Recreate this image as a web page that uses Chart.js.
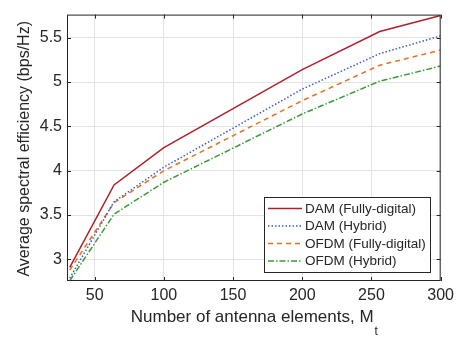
<!DOCTYPE html>
<html lang="en">
<head>
  <meta charset="UTF-8" />
  <title>Average spectral efficiency vs. antenna elements</title>
  <script src="https://cdn.jsdelivr.net/npm/chart.js"></script>
  <style>
    body { margin: 0; padding: 0; background: #ffffff; }
    canvas { display: block; }
  </style>
</head>
<body>
  <canvas id="seChart" width="459" height="339"></canvas>

  <script>
    // Data
    const antennas = [32, 64, 100, 200, 256, 300];
    const damFull = [2.91, 3.84, 4.26, 5.14, 5.57, 5.75];
    const damHybrid = [2.79, 3.65, 4.04, 4.92, 5.32, 5.52];
    const ofdmFull = [2.88, 3.64, 4.00, 4.79, 5.19, 5.36];
    const ofdmHybrid = [2.76, 3.51, 3.87, 4.64, 5.01, 5.18];

    const seriesNames = ['DAM (Fully-digital)', 'DAM (Hybrid)', 'OFDM (Fully-digital)', 'OFDM (Hybrid)'];
    const xTicks = [50, 100, 150, 200, 250, 300];
    const yTicks = [3, 3.5, 4, 4.5, 5, 5.5];

    const fontFamily = "'Liberation Sans', Arial, Helvetica, sans-serif";
    const textColor = '#262626';

    function toPoints(ys) {
      return antennas.map((x, i) => ({ x: x, y: ys[i] }));
    }

    const styles = [
      { color: '#b0202a', dash: [] },
      { color: '#3a5bd0', dash: [1.5, 2] },
      { color: '#e8701e', dash: [5, 4] },
      { color: '#3a9a3a', dash: [6, 2, 1.5, 2] }
    ];

    const datasets = [damFull, damHybrid, ofdmFull, ofdmHybrid].map((ys, i) => ({
      label: seriesNames[i],
      data: toPoints(ys),
      borderColor: styles[i].color,
      borderDash: styles[i].dash,
      borderWidth: 1.5,
      pointRadius: 0,
      fill: false,
      tension: 0
    }));

    // frame, inward ticks, axis titles and legend box
    const decorPlugin = {
      id: 'decor',
      afterDraw(chart) {
        const ctx = chart.ctx;
        const a = chart.chartArea;
        const xs = chart.scales.x;
        const ys = chart.scales.y;
        ctx.save();
        ctx.strokeStyle = textColor;
        ctx.lineWidth = 1;
        ctx.strokeRect(a.left + 0.5, a.top + 0.5, a.right - a.left - 1, a.bottom - a.top - 1);
        ctx.beginPath();
        xTicks.forEach(v => {
          const px = Math.round(xs.getPixelForValue(v)) + 0.5;
          ctx.moveTo(px, a.bottom); ctx.lineTo(px, a.bottom - 4);
          ctx.moveTo(px, a.top); ctx.lineTo(px, a.top + 4);
        });
        yTicks.forEach(v => {
          const py = Math.round(ys.getPixelForValue(v)) + 0.5;
          ctx.moveTo(a.left, py); ctx.lineTo(a.left + 4, py);
          ctx.moveTo(a.right, py); ctx.lineTo(a.right - 4, py);
        });
        ctx.stroke();

        // x title with subscript
        ctx.fillStyle = textColor;
        ctx.textBaseline = 'alphabetic';
        ctx.font = '17px ' + fontFamily;
        const main = 'Number of antenna elements, M';
        const wMain = ctx.measureText(main).width;
        ctx.font = '12px ' + fontFamily;
        const wSub = ctx.measureText('t').width;
        const cx = (a.left + a.right) / 2;
        const startX = cx - (wMain + wSub) / 2;
        ctx.font = '17px ' + fontFamily;
        ctx.textAlign = 'left';
        ctx.fillText(main, startX, 322);
        ctx.font = '12px ' + fontFamily;
        ctx.fillText('t', startX + wMain + 1, 335);

        // y title
        ctx.save();
        ctx.translate(25, (a.top + a.bottom) / 2 + 1);
        ctx.rotate(-Math.PI / 2);
        ctx.font = '16px ' + fontFamily;
        ctx.textAlign = 'center';
        ctx.textBaseline = 'middle';
        ctx.fillText('Average spectral efficiency (bps/Hz)', 0, 0);
        ctx.restore();

        // legend
        const bx = 264, by = 197, bw = 166, bh = 75;
        ctx.fillStyle = '#ffffff';
        ctx.fillRect(bx, by, bw, bh);
        ctx.strokeStyle = textColor;
        ctx.strokeRect(bx + 0.5, by + 0.5, bw, bh);
        ctx.font = '13.5px ' + fontFamily;
        ctx.textAlign = 'left';
        ctx.textBaseline = 'middle';
        chart.data.datasets.forEach((ds, i) => {
          const ry = 208.5 + i * 17.5;
          ctx.beginPath();
          ctx.strokeStyle = ds.borderColor;
          ctx.lineWidth = 1.5;
          ctx.setLineDash(ds.borderDash);
          ctx.moveTo(268, ry); ctx.lineTo(302, ry);
          ctx.stroke();
          ctx.setLineDash([]);
          ctx.fillStyle = textColor;
          ctx.fillText(ds.label, 305, ry + 0.5);
        });
        ctx.restore();
      }
    };

    const ctxSe = document.getElementById('seChart').getContext('2d');
    const seChart = new Chart(ctxSe, {
      type: 'line',
      data: { datasets: datasets },
      plugins: [decorPlugin],
      options: {
        responsive: false,
        animation: false,
        layout: { padding: { left: 0, right: 18, top: 5, bottom: 0 } },
        plugins: {
          legend: { display: false },
          tooltip: { enabled: false }
        },
        scales: {
          x: {
            type: 'linear',
            min: 30,
            max: 300,
            afterBuildTicks: s => { s.ticks = xTicks.map(v => ({ value: v })); },
            afterFit: s => { s.height = 58; },
            ticks: { autoSkip: false, maxRotation: 0, padding: 5, color: textColor, font: { family: fontFamily, size: 16 },
                     callback: v => String(v) },
            grid: { color: '#e3e3e3', drawTicks: false },
            border: { display: false }
          },
          y: {
            type: 'linear',
            min: 2.757,
            max: 5.76,
            afterBuildTicks: s => { s.ticks = yTicks.map(v => ({ value: v })); },
            afterFit: s => { s.width = 67; },
            ticks: { autoSkip: false, padding: 5, color: textColor, font: { family: fontFamily, size: 16 },
                     callback: v => String(v) },
            grid: { color: '#e3e3e3', drawTicks: false },
            border: { display: false }
          }
        }
      }
    });
  </script>
</body>
</html>
